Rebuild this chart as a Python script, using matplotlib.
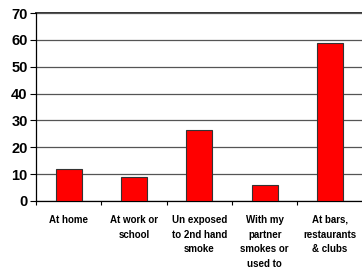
import matplotlib
matplotlib.use("Agg")
import matplotlib.pyplot as plt
import numpy as np

categories = ["At home", "At work or\nschool", "Un exposed\nto 2nd hand\nsmoke",
              "With my\npartner\nsmokes or\nused to", "At bars,\nrestaurants\n& clubs"]
values = [12, 9, 26.5, 6, 59]
yticks = [0, 10, 20, 30, 40, 50, 60, 70]

plt.rcParams['font.family'] = ['Liberation Sans', 'DejaVu Sans']

fig = plt.figure(figsize=(3.62, 2.68), dpi=100)
ax = fig.add_axes([36/362, 67/268, 1 - 36/362 + 0.002, 188/268])

x = np.arange(len(categories))
ax.bar(x, values, width=0.4, color='#ff0000', edgecolor='#333333', linewidth=0.8, zorder=3)

ax.set_xlim(-0.5, len(categories) - 0.5)
ax.set_ylim(0, 70)
ax.set_yticks(yticks)
ax.set_yticklabels([str(v) for v in yticks], fontsize=10.5, fontweight='bold')
ax.yaxis.grid(True, color='#555555', linewidth=0.9, zorder=0)
ax.axhline(70, color='#333333', linewidth=1.4, zorder=1, clip_on=False)

ax.set_xticks(x)
ax.set_xticklabels(categories, fontsize=7, fontweight='bold', linespacing=1.6, va='top')
ax.tick_params(axis='x', which='major', length=0, pad=10)
ax.set_xticks(np.arange(len(categories) + 1) - 0.5, minor=True)
ax.tick_params(axis='x', which='minor', length=3, width=0.8, color='#000000')
ax.tick_params(axis='y', length=4, width=0.8, pad=2)

for s in ['top', 'right']:
    ax.spines[s].set_visible(False)
ax.spines['left'].set_linewidth(0.9)
ax.spines['bottom'].set_linewidth(0.9)

fig.savefig("out.png", dpi=100)
